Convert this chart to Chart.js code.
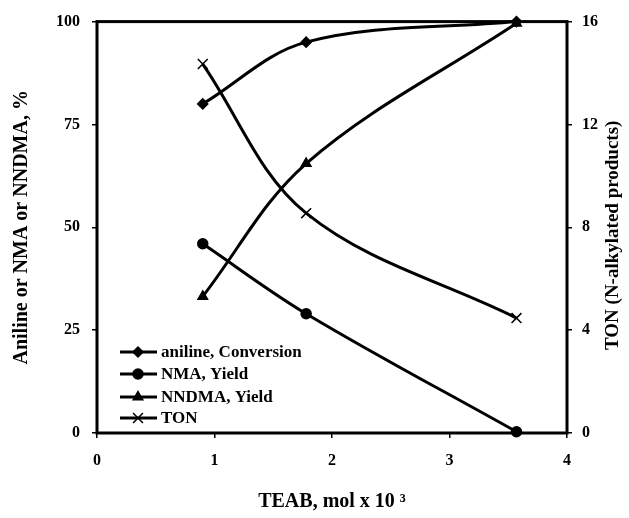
<!DOCTYPE html>
<html>
<head>
<meta charset="utf-8">
<script src="https://cdn.jsdelivr.net/npm/chart.js@4.4.1/dist/chart.umd.min.js"></script>
<style>
  body { margin: 0; background: #fff; }
  canvas { display: block; }
</style>
</head>
<body>
<canvas id="myChart-TEAB" width="629" height="518"></canvas>
<script>
// values
const teab = [0.9, 1.78, 3.57];
const anilineConversion = [80, 95, 100];
const nmaYield = [46, 29, 0.3];
const nndmaYield = [33.2, 65.5, 99.6];
const ton = [14.35, 8.55, 4.47];

const leftTicks = [0, 25, 50, 75, 100];
const rightTicks = [0, 4, 8, 12, 16];
const xTicks = [0, 1, 2, 3, 4];

const serif = 'Liberation Serif, Times New Roman, serif';

function points(ys) {
  return teab.map((x, i) => ({ x: x, y: ys[i] }));
}

// frame on all four sides, under the lines
const frame = {
  id: 'frame',
  beforeDatasetsDraw(chart) {
    const a = chart.chartArea;
    const ctx = chart.ctx;
    ctx.save();
    ctx.strokeStyle = '#000';
    ctx.lineWidth = 3;
    ctx.strokeRect(a.left, a.top, a.right - a.left, a.bottom - a.top);
    ctx.restore();
  }
};

// legend inside the plot, bottom left, line + marker
const innerLegend = {
  id: 'innerLegend',
  afterDraw(chart) {
    const ctx = chart.ctx;
    const a = chart.chartArea;
    const x0 = a.left + 23;
    const rows = [352, 374, 397, 418];
    ctx.save();
    chart.data.datasets.forEach((ds, i) => {
      const y = rows[i];
      ctx.strokeStyle = '#000';
      ctx.fillStyle = '#000';
      ctx.lineWidth = 3;
      ctx.beginPath();
      ctx.moveTo(x0, y);
      ctx.lineTo(x0 + 37, y);
      ctx.stroke();
      ctx.lineWidth = ds.pointBorderWidth;
      Chart.helpers.drawPoint(ctx, {
        pointStyle: ds.pointStyle,
        radius: ds.pointRadius,
        rotation: 0,
        borderWidth: ds.pointBorderWidth
      }, x0 + 18, y);
      ctx.font = 'bold 17px ' + serif;
      ctx.textBaseline = 'middle';
      ctx.textAlign = 'left';
      ctx.fillText(ds.label, x0 + 41, y + 1);
    });
    ctx.restore();
  }
};

// right axis title reads bottom to top
const rightTitle = {
  id: 'rightTitle',
  afterDraw(chart) {
    const s = chart.scales.y2;
    const a = chart.chartArea;
    const ctx = chart.ctx;
    ctx.save();
    ctx.translate(s.right - 16, (a.top + a.bottom) / 2 + 8);
    ctx.rotate(-Math.PI / 2);
    ctx.font = 'bold 19px ' + serif;
    ctx.fillStyle = '#000';
    ctx.textAlign = 'center';
    ctx.textBaseline = 'middle';
    ctx.fillText(s.options.title.text, 0, 0);
    ctx.restore();
  }
};

function lineSet(label, ys, style, radius, axis) {
  return {
    label: label,
    data: points(ys),
    yAxisID: axis,
    borderColor: '#000',
    backgroundColor: '#000',
    borderWidth: 3,
    tension: 0.35,
    pointStyle: style,
    pointRadius: radius,
    pointBorderWidth: 1.5,
    pointBackgroundColor: '#000',
    pointBorderColor: '#000',
    showLine: true,
    clip: false
  };
}

const tickFont = { family: serif, size: 16, weight: 'bold' };

new Chart(document.getElementById('myChart-TEAB'), {
  type: 'scatter',
  data: {
    datasets: [
      lineSet('aniline, Conversion', anilineConversion, 'rectRot', 5, 'y'),
      lineSet('NMA, Yield', nmaYield, 'circle', 5, 'y'),
      lineSet('NNDMA, Yield', nndmaYield, 'triangle', 5.5, 'y'),
      lineSet('TON', ton, 'crossRot', 7, 'y2')
    ]
  },
  options: {
    responsive: false,
    animation: false,
    layout: { padding: { top: 21, left: 0, right: 0, bottom: 0 } },
    plugins: {
      legend: { display: false },
      tooltip: { enabled: false }
    },
    scales: {
      x: {
        type: 'linear',
        min: xTicks[0],
        max: xTicks[xTicks.length - 1],
        afterBuildTicks: s => { s.ticks = xTicks.map(v => ({ value: v })); },
        afterFit: s => { s.height = 85; },
        grid: { drawOnChartArea: false, tickLength: 5, color: '#000', lineWidth: 1.5 },
        border: { display: false },
        ticks: { color: '#000', font: tickFont, padding: 13 },
        title: {
          display: true,
          text: 'TEAB, mol x 10 \u00b3',
          color: '#000',
          font: { family: serif, size: 20, weight: 'bold' },
          padding: { top: 0, bottom: 4 }
        }
      },
      y: {
        position: 'left',
        min: leftTicks[0],
        max: leftTicks[leftTicks.length - 1],
        afterBuildTicks: s => { s.ticks = leftTicks.map(v => ({ value: v })); },
        afterFit: s => { s.width = 97; },
        grid: { drawOnChartArea: false, tickLength: 5, color: '#000', lineWidth: 1.5 },
        border: { display: false },
        ticks: { color: '#000', font: tickFont, padding: 12 },
        title: {
          display: true,
          text: 'Aniline or NMA or NNDMA, %',
          color: '#000',
          font: { family: serif, size: 20, weight: 'bold' },
          padding: { top: 10, bottom: 0 }
        }
      },
      y2: {
        position: 'right',
        min: rightTicks[0],
        max: rightTicks[rightTicks.length - 1],
        afterBuildTicks: s => { s.ticks = rightTicks.map(v => ({ value: v })); },
        afterFit: s => { s.width = 62; },
        grid: { drawOnChartArea: false, tickLength: 5, color: '#000', lineWidth: 1.5 },
        border: { display: false },
        ticks: { color: '#000', font: tickFont, padding: 10 },
        title: { display: false, text: 'TON (N-alkylated products)' }
      }
    }
  },
  plugins: [frame, innerLegend, rightTitle]
});
</script>
</body>
</html>
